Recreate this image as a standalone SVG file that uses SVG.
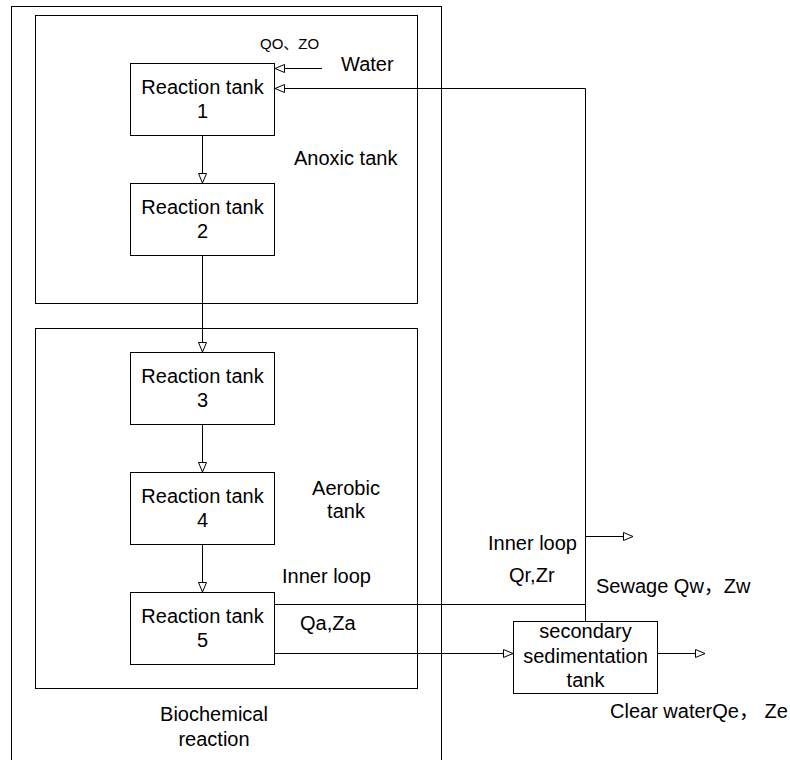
<svg xmlns="http://www.w3.org/2000/svg" width="790" height="760" viewBox="0 0 790 760">
<style>
.box{fill:none;stroke:#000;stroke-width:1}
.tank{fill:#fff;stroke:#000;stroke-width:1}
.ln{fill:none;stroke:#000;stroke-width:1}
.arr{marker-end:url(#tri)}
text{font-family:"Liberation Sans",Arial,"Noto Sans CJK SC",sans-serif;font-size:20px;fill:#000}
.c{text-anchor:middle}
.s{font-size:15px}
</style>
<defs>
<marker id="tri" markerUnits="userSpaceOnUse" markerWidth="12" markerHeight="11" refX="10" refY="4.5" orient="auto" overflow="visible">
<path d="M0.5,0.5 L10,4.5 L0.5,8.5 Z" fill="#fff" stroke="#000" stroke-width="1"/>
</marker>
</defs>
<rect width="790" height="760" fill="#fff"/>
<g id="biochemical">
<rect class="box" x="11.5" y="6.5" width="430" height="770"/>
<text class="c" x="214" y="721">Biochemical</text>
<text class="c" x="214" y="746">reaction</text>
</g>
<g id="anoxic">
<rect class="box" x="35.5" y="15.5" width="382" height="288"/>
<text x="294" y="165">Anoxic tank</text>
</g>
<g id="aerobic">
<rect class="box" x="35.5" y="328.5" width="382" height="360"/>
<text class="c" x="346" y="495">Aerobic</text>
<text class="c" x="346" y="518">tank</text>
</g>
<g id="connectors">
<path class="ln arr" d="M202.5,135.5 V183"/>
<path class="ln arr" d="M202.5,255.5 V352"/>
<path class="ln arr" d="M202.5,424.5 V472"/>
<path class="ln arr" d="M202.5,544.5 V592"/>
<path class="ln arr" d="M322,68.5 H275"/>
<path class="ln arr" d="M585.5,621.5 V88.5 H275"/>
<path class="ln" d="M274.5,604.5 H585.5"/>
<path class="ln arr" d="M585.5,536.5 H633"/>
<path class="ln arr" d="M274.5,653.5 H513"/>
<path class="ln arr" d="M657.5,653.5 H705"/>
</g>
<g id="tank1">
<rect class="tank" x="130.5" y="63.5" width="144" height="72"/>
<text class="c" x="202.5" y="94">Reaction tank</text>
<text class="c" x="202.5" y="118">1</text>
</g>
<g id="tank2">
<rect class="tank" x="130.5" y="183.5" width="144" height="72"/>
<text class="c" x="202.5" y="214">Reaction tank</text>
<text class="c" x="202.5" y="238">2</text>
</g>
<g id="tank3">
<rect class="tank" x="130.5" y="352.5" width="144" height="72"/>
<text class="c" x="202.5" y="383">Reaction tank</text>
<text class="c" x="202.5" y="407">3</text>
</g>
<g id="tank4">
<rect class="tank" x="130.5" y="472.5" width="144" height="72"/>
<text class="c" x="202.5" y="503">Reaction tank</text>
<text class="c" x="202.5" y="527">4</text>
</g>
<g id="tank5">
<rect class="tank" x="130.5" y="592.5" width="144" height="72"/>
<text class="c" x="202.5" y="623">Reaction tank</text>
<text class="c" x="202.5" y="647">5</text>
</g>
<g id="sedimentation">
<rect class="tank" x="513.5" y="621.5" width="144" height="72"/>
<text class="c" x="585.5" y="638">secondary</text>
<text class="c" x="585.5" y="663">sedimentation</text>
<text class="c" x="585.5" y="687">tank</text>
</g>
<g id="labels">
<text class="s" x="260" y="49">QO、ZO</text>
<text x="341" y="71">Water</text>
<text x="282" y="583">Inner loop</text>
<text x="300" y="630">Qa,Za</text>
<text x="488" y="550">Inner loop</text>
<text x="509" y="582">Qr,Zr</text>
<text x="596" y="593">Sewage Qw，Zw</text>
<text x="610" y="718">Clear waterQe， Ze</text>
</g>
</svg>
